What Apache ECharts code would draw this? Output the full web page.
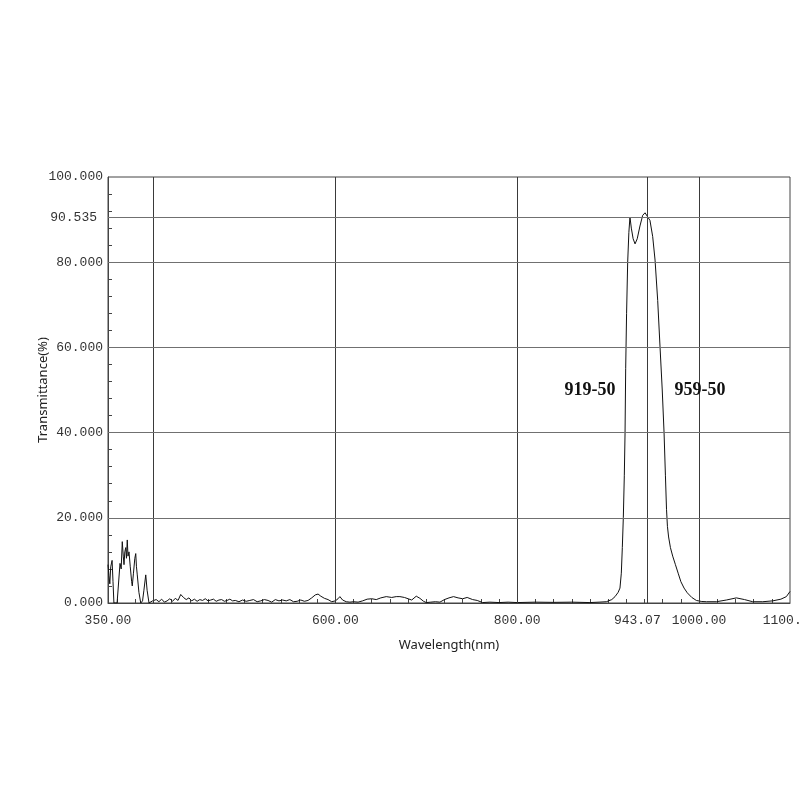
<!DOCTYPE html>
<html>
<head>
<meta charset="utf-8">
<script src="https://cdn.jsdelivr.net/npm/echarts@6/dist/echarts.min.js"></script>
<style>html,body{margin:0;padding:0;background:#fff;}#c{width:800px;height:800px;}</style>
</head>
<body>
<div id="c"></div>
<script>
// Wavelength (nm) and transmittance (%)
const wavelength = [
  350,351,352,353,354.5,355.5,356.5,358,360,362,363.2,364.5,365.7,366.8,367.6,368.5,369.5,370.3,371.2,372,373.1,374.5,376,376.7,378,379.5,380.5,381.3,382.2,384,386,388,389.5,391.5,393,395.1,397,399,
  400,403,406,409,412,415,418,421,424,427,430,433,436,439,442,445,448,451,454,457,460,463,466,469,472,475,478,481,484,487,490,494,498,502,506,510,514,518,522,526,530,534,538,542,546,550,554,558,562,566,570,574,578,581,584,588,592,596,600,603,605,608,612,616,620,625,630,635,640,645,650,656,662,667,671,676,680,684,689,693,697,700,705,710,715,720,725,730,735,740,745,751,756,762,770,780,790,800,
  820,840,860,880,890,898,904,907.6,911,913,914.5,915.6,916.7,917.8,918.6,919.3,920.3,921.5,922.8,924,925.5,927.5,929.6,932,935,938,940.6,943,946,949,951.6,954.5,957.1,959.5,961.5,963,964.2,965.2,966.5,968.5,971,974,977,980,983.5,987,992,997,1003,1008.3,1019,1030,1041,1050,1059,1070,1081,1090,1096,1100
];
const transmittance = [
  9.0,6.5,4.5,8.5,10.0,5.0,0,0.3,0,0,9.3,8,14.4,11,9,12,13,10.5,14.8,11,12,8.5,5,4,7,10.5,11.6,8.5,6.6,2.5,0,0.5,3,6.6,3,0,0.3,0.5,
  0.2,0.8,0.3,0.9,0.2,0.5,1.0,0.4,1.1,0.6,2.0,1.3,0.8,1.2,0.5,0.9,0.4,0.8,0.6,1.0,0.5,0.7,0.9,0.4,0.7,0.8,0.4,0.6,0.9,0.5,0.6,0.3,0.7,0.4,0.6,0.8,0.3,0.5,0.8,0.6,0.2,0.8,0.5,0.7,0.5,0.8,0.3,0.4,0.7,0.4,0.6,1.2,1.9,2.1,1.6,1.1,0.8,0.3,0.5,1.0,1.5,0.7,0.3,0.2,0.3,0.2,0.5,0.9,1.0,0.8,1.2,1.5,1.3,1.5,1.5,1.3,1.0,0.7,1.6,1.1,0.4,0.1,0.2,0.3,0.2,0.8,1.2,1.5,1.2,1.0,1.3,0.8,0.6,0.1,0.2,0.1,0.2,0.1,
  0.2,0.15,0.2,0.1,0.2,0.3,0.8,1.5,2.5,3.5,7,13,20,30,40,55,68,80,87,90.6,88,85.5,84.3,85.5,88.5,91,91.6,90.8,89.8,86,80.5,71,60,50,40,30,22,18,15.5,13,11,9,7,5,3.5,2.4,1.3,0.6,0.35,0.3,0.3,0.7,1.2,0.8,0.3,0.3,0.5,0.9,1.5,2.7
];
const xLabelValues = [350, 600, 800, 943.07, 1000, 1100];
const yLabelValues = [0, 20, 40, 60, 80, 90.535, 100];
const gridX = [400, 600, 800, 943.07, 1000];
const gridY = [20, 40, 60, 80, 90.535];
const annotations = [
  { text: '919-50', x: 880, y: 50 },
  { text: '959-50', x: 1001, y: 50 }
];

const xTicks = [];
for (let v = 360; v < 1100; v += 20) xTicks.push(v);
const yTicks = [];
for (let v = 4; v < 100; v += 4) yTicks.push(v);

const pts = wavelength.map((w, i) => [w, transmittance[i]]);
const labelFont = { fontFamily: 'Liberation Mono', fontSize: 13, color: '#333' };

const chart = echarts.init(document.getElementById('c'), null, { renderer: 'canvas' });
chart.setOption({
  animation: false,
  backgroundColor: '#fff',
  grid: { left: 108, right: 10, top: 177, bottom: 197, show: true, borderColor: '#444', borderWidth: 1,
          containLabel: false, outerBoundsMode: 'none' },
  xAxis: {
    type: 'value', min: 350, max: 1100,
    name: 'Wavelength(nm)', nameLocation: 'middle', nameGap: 36,
    nameTextStyle: { fontFamily: 'Noto Sans', fontSize: 13, color: '#222' },
    axisLine: { show: true, onZero: false, lineStyle: { color: '#444', width: 1 } },
    axisTick: { show: true, inside: true, length: 4, customValues: xTicks, lineStyle: { color: '#444' } },
    splitLine: { show: false },
    axisLabel: {
      ...labelFont, margin: 11, customValues: xLabelValues,
      formatter: v => Math.abs(v - 943.07) < 1e-6 ? '{s|' + v.toFixed(2) + '}' : v.toFixed(2),
      rich: { s: { ...labelFont, padding: [0, 20, 0, 0] } }
    }
  },
  yAxis: {
    type: 'value', min: 0, max: 100,
    name: 'Transmittance(%)', nameLocation: 'middle', nameGap: 58, nameMoveOverlap: false,
    nameTextStyle: { fontFamily: 'Noto Sans', fontSize: 13, color: '#222' },
    axisLine: { show: true, lineStyle: { color: '#444', width: 1 } },
    axisTick: { show: true, inside: true, length: 4, customValues: yTicks, lineStyle: { color: '#444' } },
    splitLine: { show: false },
    axisLabel: {
      ...labelFont, margin: 5, customValues: yLabelValues,
      formatter: v => Math.abs(v - 90.535) < 1e-6 ? '{s|' + v.toFixed(3) + '}' : v.toFixed(3),
      rich: { s: { ...labelFont, padding: [0, 6, 0, 0] } }
    }
  },
  series: [
    {
      type: 'line', data: [], silent: true,
      markLine: {
        silent: true, symbol: 'none', animation: false,
        label: { show: false },
        data: [
          ...gridX.map(v => ({ xAxis: v, lineStyle: { color: '#3a3a3a', width: 1, type: 'solid' } })),
          ...gridY.map(v => ({ yAxis: v, lineStyle: { color: '#707070', width: 1, type: 'solid' } }))
        ]
      }
    },
    {
      type: 'line', data: pts, showSymbol: false, symbol: 'none',
      lineStyle: { color: '#111', width: 1 },
      markPoint: {
        symbol: 'circle', symbolSize: 0,
        label: {
          show: true, position: 'inside',
          fontFamily: 'Liberation Serif', fontWeight: 'bold', fontSize: 18, color: '#111',
          formatter: p => p.name
        },
        data: annotations.map(a => ({ name: a.text, coord: [a.x, a.y] }))
      }
    }
  ]
});
</script>
</body>
</html>
